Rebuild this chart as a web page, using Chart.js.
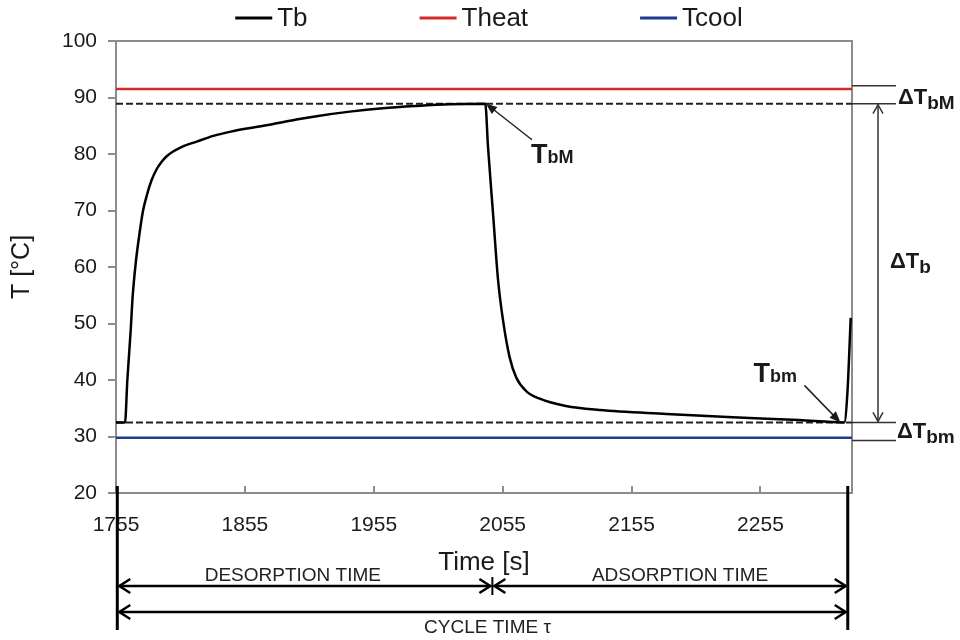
<!DOCTYPE html>
<html>
<head>
<meta charset="utf-8">
<script src="https://cdn.jsdelivr.net/npm/chart.js@4/dist/chart.umd.min.js"></script>
<style>
  html, body { margin: 0; padding: 0; background: #ffffff; }
  #wrap { width: 960px; height: 640px; }
</style>
</head>
<body>
<div id="wrap"><canvas id="c" width="960" height="640"></canvas></div>
<script>
// Bed temperature over one adsorption/desorption cycle
const timeS = [
  1755, 1762, 1763.8, 1766.4, 1767.9, 1770.3, 1773.6, 1776, 1778.8, 1782.5,
  1786.5, 1790, 1794.3, 1799, 1804.6, 1811, 1817.6, 1830.5, 1845, 1859,
  1877, 1895, 1910.6, 1936.4, 1962, 1988, 2014, 2041.5, 2043.6, 2047.5,
  2051.4, 2055.3, 2060.4, 2065.6, 2073.4, 2083.7, 2104, 2130, 2182, 2233.5,
  2285, 2320, 2322.5, 2325
];
const tbValues = [
  32.5, 32.5, 40.0, 48.8, 54.7, 60.7, 66.5, 70.0, 72.6, 75.3,
  77.3, 78.5, 79.6, 80.4, 81.1, 81.7, 82.2, 83.2, 84.0, 84.6,
  85.3, 86.1, 86.7, 87.5, 88.1, 88.5, 88.8, 88.9, 81.3, 69.5,
  57.7, 50.5, 44.0, 40.4, 38.0, 36.7, 35.4, 34.7, 34.0, 33.4,
  32.9, 32.5, 38.0, 51.0
];

// Heating / cooling fluid temperatures and bed extremes
const tHeat = 91.5;
const tCool = 29.8;
const tbMax = 88.9;
const tbMin = 32.5;
// levels of the outer ΔT bracket lines
const bracketHigh = 92.1;
const bracketLow = 29.3;

// Axis ranges and tick labels
const xRange = [1755, 2326];
const xTicks = [1755, 1855, 1955, 2055, 2155, 2255];
const yRange = [20, 100];
const yTicks = [20, 30, 40, 50, 60, 70, 80, 90, 100];

// Cycle phases: start, switch from desorption to adsorption, end
const phaseTimes = [1756, 2047, 2322.7];
const phaseLabels = ['DESORPTION TIME', 'ADSORPTION TIME', 'CYCLE TIME τ'];

// Marker points for the TbM / Tbm call-outs
const tbMaxAt = 2042;
const tbMinAt = 2317;

const FONT = "'Liberation Sans', Arial, Helvetica, sans-serif";
const GREY = '#8c8c8c';
const INK = '#1a1a1a';
const RED = '#d42a2a';
const BLUE = '#1f3b8c';

Chart.defaults.font.family = FONT;
Chart.defaults.color = INK;

const flat = (v) => [{ x: xRange[0], y: v }, { x: xRange[1], y: v }];

function openHead(ctx, x, y, ang, len, half) {
  const bx = x - Math.cos(ang) * len, by = y - Math.sin(ang) * len;
  const px = -Math.sin(ang) * half, py = Math.cos(ang) * half;
  ctx.beginPath();
  ctx.moveTo(bx + px, by + py);
  ctx.lineTo(x, y);
  ctx.lineTo(bx - px, by - py);
  ctx.stroke();
}

function filledHead(ctx, x, y, ang, len, half) {
  const bx = x - Math.cos(ang) * len, by = y - Math.sin(ang) * len;
  const px = -Math.sin(ang) * half, py = Math.cos(ang) * half;
  ctx.beginPath();
  ctx.moveTo(bx + px, by + py);
  ctx.lineTo(x, y);
  ctx.lineTo(bx - px, by - py);
  ctx.closePath();
  ctx.fill();
}

function subText(ctx, x, base, main, mainSize, sub, subSize, dy) {
  ctx.textAlign = 'left';
  ctx.textBaseline = 'alphabetic';
  ctx.font = 'bold ' + mainSize + 'px ' + FONT;
  ctx.fillText(main, x, base);
  const w = ctx.measureText(main).width;
  ctx.font = 'bold ' + subSize + 'px ' + FONT;
  ctx.fillText(sub, x + w, base + dy);
}

// Plot frame and inward x tick marks
const framePlugin = {
  id: 'frame',
  beforeDatasetsDraw(chart) {
    const { ctx, chartArea: a, scales: { x } } = chart;
    ctx.save();
    ctx.strokeStyle = GREY;
    ctx.lineWidth = 2;
    ctx.beginPath();
    ctx.moveTo(a.left, a.top);
    ctx.lineTo(a.right, a.top);
    ctx.lineTo(a.right, a.bottom);
    ctx.stroke();
    ctx.beginPath();
    xTicks.forEach(v => {
      const px = Math.round(x.getPixelForValue(v));
      ctx.moveTo(px, a.bottom);
      ctx.lineTo(px, a.bottom - 7);
    });
    ctx.stroke();
    ctx.restore();
  }
};

// Legend, call-outs, ΔT brackets and cycle phase arrows
const notesPlugin = {
  id: 'notes',
  afterDraw(chart) {
    const { ctx, chartArea: a, scales: { x, y } } = chart;
    ctx.save();

    // legend row
    const items = chart.data.datasets.filter(d => !d.hideInLegend);
    ctx.font = '26px ' + FONT;
    const lineW = 37, gapIn = 5, gapOut = 112;
    let total = 0;
    items.forEach((d, i) => {
      total += lineW + gapIn + ctx.measureText(d.label).width + (i ? gapOut : 0);
    });
    let lx = (a.left + a.right) / 2 + 5 - total / 2;
    const ly = 18;
    items.forEach(d => {
      ctx.strokeStyle = d.borderColor;
      ctx.lineWidth = 3;
      ctx.beginPath();
      ctx.moveTo(lx, ly);
      ctx.lineTo(lx + lineW, ly);
      ctx.stroke();
      ctx.fillStyle = INK;
      ctx.textAlign = 'left';
      ctx.textBaseline = 'middle';
      ctx.fillText(d.label, lx + lineW + gapIn, ly + 1);
      lx += lineW + gapIn + ctx.measureText(d.label).width + gapOut;
    });

    ctx.fillStyle = INK;
    ctx.strokeStyle = '#222';

    // TbM call-out
    const mx = x.getPixelForValue(tbMaxAt), my = y.getPixelForValue(tbMax);
    ctx.lineWidth = 1.5;
    ctx.beginPath();
    ctx.moveTo(mx + 46, my + 36);
    ctx.lineTo(mx + 4, my + 3);
    ctx.stroke();
    filledHead(ctx, mx, my, Math.atan2(-36, -46), 11, 4.5);
    subText(ctx, mx + 45, my + 59, 'T', 27, 'bM', 18, 0);

    // Tbm call-out
    const nx = x.getPixelForValue(tbMinAt), ny = y.getPixelForValue(tbMin);
    ctx.beginPath();
    ctx.moveTo(nx - 36, ny - 37);
    ctx.lineTo(nx - 3, ny - 3);
    ctx.stroke();
    filledHead(ctx, nx, ny, Math.atan2(37, 36), 11, 4.5);
    subText(ctx, nx - 87, ny - 40, 'T', 27, 'bm', 18, 0);

    // ΔT brackets on the right
    const bx0 = a.right, bx1 = a.right + 44;
    const yHi = y.getPixelForValue(bracketHigh);
    const yMax = y.getPixelForValue(tbMax);
    const yMin = y.getPixelForValue(tbMin);
    const yLo = y.getPixelForValue(bracketLow);
    ctx.strokeStyle = '#333';
    ctx.lineWidth = 1.5;
    ctx.beginPath();
    [yHi, yMax, yMin, yLo].forEach(v => { ctx.moveTo(bx0, v); ctx.lineTo(bx1, v); });
    const ax = a.right + 26;
    ctx.moveTo(ax, yMax + 1);
    ctx.lineTo(ax, yMin - 1);
    ctx.stroke();
    openHead(ctx, ax, yMax + 1, -Math.PI / 2, 9, 5);
    openHead(ctx, ax, yMin - 1, Math.PI / 2, 9, 5);

    subText(ctx, a.right + 46, yMax, 'ΔT', 22, 'bM', 19, 5);
    subText(ctx, a.right + 38, (yMax + yMin) / 2 + 5, 'ΔT', 22, 'b', 19, 5);
    subText(ctx, a.right + 45, yLo - 2, 'ΔT', 22, 'bm', 19, 5);

    // cycle phase arrows under the axis
    const p0 = x.getPixelForValue(phaseTimes[0]);
    const p1 = x.getPixelForValue(phaseTimes[1]);
    const p2 = x.getPixelForValue(phaseTimes[2]);
    const r1 = 586, r2 = 612;
    ctx.strokeStyle = '#000';
    ctx.lineWidth = 3;
    ctx.beginPath();
    ctx.moveTo(p0, a.bottom - 7); ctx.lineTo(p0, 630);
    ctx.moveTo(p2, a.bottom - 7); ctx.lineTo(p2, 630);
    ctx.stroke();
    ctx.lineWidth = 2;
    ctx.beginPath();
    ctx.moveTo(p1, r1 - 9); ctx.lineTo(p1, r1 + 9);
    ctx.stroke();

    ctx.lineWidth = 2.5;
    ctx.beginPath();
    ctx.moveTo(p0 + 2, r1); ctx.lineTo(p1 - 2, r1);
    ctx.moveTo(p1 + 2, r1); ctx.lineTo(p2 - 2, r1);
    ctx.moveTo(p0 + 2, r2); ctx.lineTo(p2 - 2, r2);
    ctx.stroke();
    openHead(ctx, p0 + 2, r1, Math.PI, 11, 7);
    openHead(ctx, p1 - 2, r1, 0, 11, 7);
    openHead(ctx, p1 + 2, r1, Math.PI, 11, 7);
    openHead(ctx, p2 - 2, r1, 0, 11, 7);
    openHead(ctx, p0 + 2, r2, Math.PI, 11, 7);
    openHead(ctx, p2 - 2, r2, 0, 11, 7);

    ctx.fillStyle = '#222';
    ctx.font = '19px ' + FONT;
    ctx.textAlign = 'center';
    ctx.textBaseline = 'middle';
    ctx.fillText(phaseLabels[0], (p0 + p1) / 2 - 12, r1 - 10);
    ctx.fillText(phaseLabels[1], (p1 + p2) / 2 + 10, r1 - 10);
    ctx.fillText(phaseLabels[2], (p0 + p2) / 2 + 5, r2 + 16);

    ctx.restore();
  }
};

new Chart(document.getElementById('c'), {
  type: 'line',
  data: {
    datasets: [
      {
        label: 'Tb',
        data: timeS.map((t, i) => ({ x: t, y: tbValues[i] })),
        borderColor: '#000000',
        borderWidth: 2.5,
        pointRadius: 0,
        cubicInterpolationMode: 'monotone'
      },
      {
        label: 'Theat',
        data: flat(tHeat),
        borderColor: RED,
        borderWidth: 2.5,
        pointRadius: 0
      },
      {
        label: 'Tcool',
        data: flat(tCool),
        borderColor: BLUE,
        borderWidth: 2.5,
        pointRadius: 0
      },
      {
        label: 'TbM',
        hideInLegend: true,
        data: flat(tbMax),
        borderColor: '#222222',
        borderWidth: 2,
        borderDash: [7, 3],
        pointRadius: 0
      },
      {
        label: 'Tbm',
        hideInLegend: true,
        data: flat(tbMin),
        borderColor: '#222222',
        borderWidth: 2,
        borderDash: [7, 3],
        pointRadius: 0
      }
    ]
  },
  options: {
    responsive: false,
    animation: false,
    devicePixelRatio: 1,
    layout: { padding: { left: 0, top: 41, right: 108, bottom: 0 } },
    plugins: {
      legend: { display: false },
      tooltip: { enabled: false }
    },
    scales: {
      x: {
        type: 'linear',
        min: xRange[0],
        max: xRange[1],
        afterBuildTicks: (axis) => { axis.ticks = xTicks.map(v => ({ value: v })); },
        afterFit: (s) => { s.height = 147; },
        ticks: {
          font: { size: 21 },
          color: INK,
          padding: 12,
          maxRotation: 0,
          callback: (v) => String(v)
        },
        grid: { display: false },
        border: { color: GREY, width: 2 },
        title: {
          display: true,
          text: 'Time [s]',
          font: { size: 26 },
          color: INK,
          padding: { top: 0, bottom: 62 }
        }
      },
      y: {
        min: yRange[0],
        max: yRange[1],
        afterBuildTicks: (axis) => { axis.ticks = yTicks.map(v => ({ value: v })); },
        afterFit: (s) => { s.width = 116; },
        ticks: { font: { size: 21 }, color: INK, padding: 11, callback: (v) => String(v) },
        grid: { drawOnChartArea: false, drawTicks: true, tickLength: 8, color: GREY, lineWidth: 2 },
        border: { color: GREY, width: 2 },
        title: {
          display: true,
          text: 'T [°C]',
          font: { size: 25 },
          color: INK,
          padding: { top: 7, bottom: 0 }
        }
      }
    }
  },
  plugins: [framePlugin, notesPlugin]
});
</script>
</body>
</html>
